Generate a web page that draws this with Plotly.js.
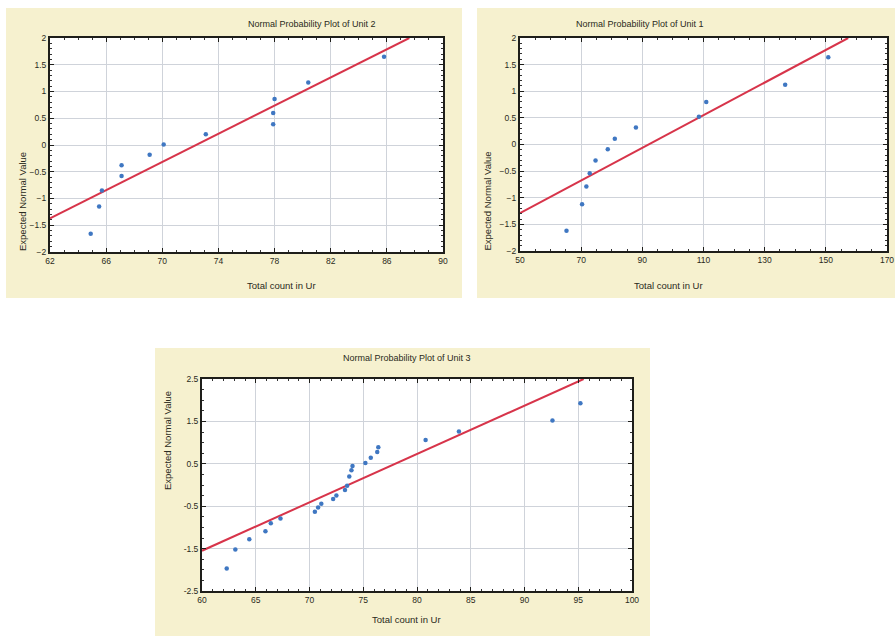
<!DOCTYPE html>
<html>
<head>
<meta charset="utf-8">
<script src="https://cdn.plot.ly/plotly-3.0.1.min.js"></script>
<style>html,body{margin:0;padding:0;background:#fff;}#chart{width:895px;height:636px;}</style>
</head>
<body>
<div id="chart"></div>
<script>
// ---- Data ----
// Unit 2
const unit2X = [64.9, 65.5, 65.7, 67.1, 67.1, 69.1, 70.1, 73.1, 77.9, 77.9, 78.0, 80.4, 85.8];
const unit2Y = [-1.66, -1.15, -0.85, -0.58, -0.38, -0.18, 0.01, 0.20, 0.39, 0.60, 0.86, 1.17, 1.65];
const unit2FitX = [62, 87.6];
const unit2FitY = [-1.37, 2];
// Unit 1
const unit1X = [65.2, 70.3, 71.7, 72.8, 74.7, 78.7, 81.0, 87.9, 108.5, 110.9, 136.7, 150.8];
const unit1Y = [-1.62, -1.12, -0.79, -0.54, -0.30, -0.09, 0.11, 0.32, 0.52, 0.80, 1.12, 1.64];
const unit1FitX = [50, 157.3];
const unit1FitY = [-1.29, 2];
// Unit 3
const unit3X = [62.3, 63.1, 64.4, 65.9, 66.4, 67.3, 70.5, 70.8, 71.1, 72.2, 72.5, 73.3,
                73.5, 73.7, 73.9, 74.0, 75.2, 75.7, 76.3, 76.4, 80.8, 83.9, 92.6, 95.2];
const unit3Y = [-1.97, -1.52, -1.28, -1.09, -0.90, -0.79, -0.63, -0.53, -0.44, -0.33, -0.25, -0.12,
                -0.02, 0.20, 0.35, 0.45, 0.52, 0.64, 0.78, 0.89, 1.06, 1.26, 1.52, 1.93];
const unit3FitX = [60, 95.5];
const unit3FitY = [-1.55, 2.5];

const titles = ["Normal Probability Plot of Unit 2", "Normal Probability Plot of Unit 1", "Normal Probability Plot of Unit 3"];
const xTitle = "Total count in Ur";
const yTitle = "Expected Normal Value";
const unit3YTicks = [-2.5, -1.5, -0.5, 0.5, 1.5, 2.5];
const unit3YTickText = ["-2.5", "-1.5", "-0.5", "0.5", "1.5", "2.5"];

// ---- Styling ----
const W = 895, H = 636;
const px = v => v / W;
const py = v => 1 - v / H;
const markerColor = '#3f77c2';
const lineColor = '#d7344a';
const beige = '#f6f1cf';
const textColor = '#2a2a20';
const family = 'Liberation Sans, Arial, sans-serif';
const tickFont = {family: family, size: 8.5, color: textColor};
const titleFont = {family: family, size: 9, color: textColor};
const axTitleFont = {family: family, size: 9.5, color: textColor};

function scatter(x, y, xa, ya) {
  return {x: x, y: y, xaxis: xa, yaxis: ya, type: 'scatter', mode: 'markers',
          marker: {color: markerColor, size: 4.5, symbol: 'circle'}, hoverinfo: 'skip', showlegend: false};
}
function fit(x, y, xa, ya) {
  return {x: x, y: y, xaxis: xa, yaxis: ya, type: 'scatter', mode: 'lines',
          line: {color: lineColor, width: 2}, hoverinfo: 'skip', showlegend: false};
}

const data = [
  fit(unit2FitX, unit2FitY, 'x', 'y'), scatter(unit2X, unit2Y, 'x', 'y'),
  fit(unit1FitX, unit1FitY, 'x2', 'y2'), scatter(unit1X, unit1Y, 'x2', 'y2'),
  fit(unit3FitX, unit3FitY, 'x3', 'y3'), scatter(unit3X, unit3Y, 'x3', 'y3')
];

function axis(extra) {
  return Object.assign({
    showline: true, linecolor: '#1e1e1a', linewidth: 2, mirror: 'allticks',
    ticks: 'inside', ticklen: 4, tickwidth: 1, tickcolor: '#1e1e1a',
    showgrid: true, gridcolor: '#cfd3da', gridwidth: 1, zeroline: false,
    tickfont: tickFont, fixedrange: true,
    minor: {ticks: 'inside', ticklen: 2, tickcolor: '#333', nticks: 5, showgrid: false}
  }, extra);
}

const plots = [[50, 443, 38, 252], [520, 887, 38, 251], [202, 632, 379, 591]];
const panels = [[6, 462, 8, 298], [477, 895, 8, 298], [155, 650, 348, 636]];
const shapes = [];
panels.forEach(p => shapes.push({type: 'rect', xref: 'paper', yref: 'paper', x0: px(p[0]), x1: px(p[1]),
  y0: py(p[3]), y1: py(p[2]), fillcolor: beige, line: {width: 0}, layer: 'below'}));
plots.forEach(p => shapes.push({type: 'rect', xref: 'paper', yref: 'paper', x0: px(p[0]), x1: px(p[1]),
  y0: py(p[3]), y1: py(p[2]), fillcolor: '#ffffff', line: {width: 0}, layer: 'below'}));

const layout = {
  width: W, height: H, margin: {l: 0, r: 0, t: 0, b: 0},
  paper_bgcolor: '#ffffff', plot_bgcolor: '#ffffff',
  showlegend: false,
  xaxis:  axis({domain: [px(plots[0][0]), px(plots[0][1])], range: [62, 90], tick0: 62, dtick: 4, anchor: 'y'}),
  yaxis:  axis({domain: [py(plots[0][3]), py(plots[0][2])], range: [-2, 2], dtick: 0.5, anchor: 'x'}),
  xaxis2: axis({domain: [px(plots[1][0]), px(plots[1][1])], range: [50, 170], tick0: 50, dtick: 20, anchor: 'y2'}),
  yaxis2: axis({domain: [py(plots[1][3]), py(plots[1][2])], range: [-2, 2], dtick: 0.5, anchor: 'x2'}),
  xaxis3: axis({domain: [px(plots[2][0]), px(plots[2][1])], range: [60, 100], tick0: 60, dtick: 5, anchor: 'y3'}),
  yaxis3: axis({domain: [py(plots[2][3]), py(plots[2][2])], range: [-2.5, 2.5], tickmode: 'array',
                tickvals: unit3YTicks, ticktext: unit3YTickText, anchor: 'x3',
                minor: {ticks: 'inside', ticklen: 2, tickcolor: '#333', dtick: 0.25, tick0: 0, showgrid: false}}),
  shapes: shapes,
  annotations: [
    {text: titles[0], x: px(246), y: py(17), xref: 'paper', yref: 'paper', showarrow: false, font: titleFont},
    {text: xTitle, x: px(245), y: py(285), xref: 'paper', yref: 'paper', showarrow: false, font: axTitleFont},
    {text: yTitle, x: px(15), y: py(150), xref: 'paper', yref: 'paper', showarrow: false, textangle: -90, font: axTitleFont},
    {text: titles[1], x: px(706), y: py(17), xref: 'paper', yref: 'paper', showarrow: false, font: titleFont},
    {text: xTitle, x: px(705), y: py(285), xref: 'paper', yref: 'paper', showarrow: false, font: axTitleFont},
    {text: yTitle, x: px(487), y: py(150), xref: 'paper', yref: 'paper', showarrow: false, textangle: -90, font: axTitleFont},
    {text: titles[2], x: px(407), y: py(358), xref: 'paper', yref: 'paper', showarrow: false, font: titleFont},
    {text: xTitle, x: px(406), y: py(627), xref: 'paper', yref: 'paper', showarrow: false, font: axTitleFont},
    {text: yTitle, x: px(160), y: py(492), xref: 'paper', yref: 'paper', showarrow: false, textangle: -90, font: axTitleFont}
  ]
};

Plotly.newPlot('chart', data, layout, {displayModeBar: false, staticPlot: true});
</script>
</body>
</html>
